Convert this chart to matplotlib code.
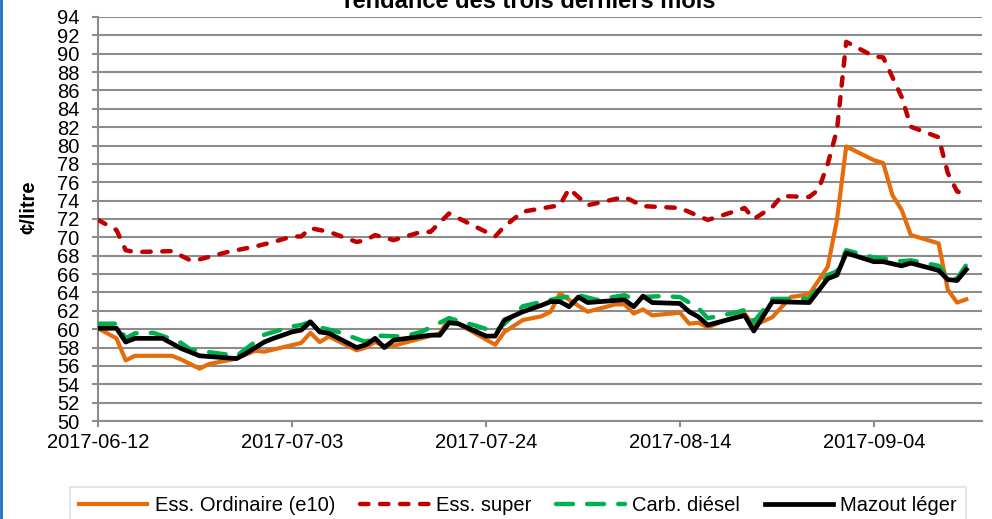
import pandas as pd
import matplotlib
matplotlib.use("Agg")
import matplotlib.pyplot as plt
import matplotlib.dates as mdates
from matplotlib.lines import Line2D

plt.rcParams['font.family'] = ['Liberation Sans', 'DejaVu Sans']

start = pd.Timestamp('2017-06-12')

# day offsets from 2017-06-12 and prices (cents / litre)
ordinaire_days = [0, 2, 3, 4, 8, 9, 11, 12, 15, 17, 18, 22, 23, 24, 25, 28, 29, 30, 31, 32, 35, 37, 38, 39,
                  43, 44, 46, 48, 49, 50, 51, 53, 56, 57, 58, 59, 60, 63, 64, 65, 66, 68, 70, 71, 73, 75,
                  77, 79, 80, 81, 84, 85, 86, 87, 88, 91, 92, 93, 94]
ordinaire = [60.1, 59.0, 56.6, 57.1, 57.1, 56.7, 55.7, 56.2, 56.8, 57.65, 57.55, 58.5, 59.6, 58.6, 59.2,
             57.7, 58.0, 58.6, 58.2, 58.2, 59.0, 59.55, 61.2, 60.6, 58.3, 59.7, 61.0, 61.4, 61.9, 63.9,
             63.2, 61.9, 62.7, 62.7, 61.7, 62.15, 61.5, 61.8, 60.6, 60.7, 60.2, 61.0, 61.7, 60.4, 61.3,
             63.5, 63.8, 66.8, 71.9, 79.9, 78.4, 78.1, 74.6, 73.0, 70.25, 69.35, 64.3, 62.9, 63.25]

super_days = [0, 2, 3, 4, 8, 9, 10, 11, 14, 17, 19, 21, 22, 23, 25, 28, 29, 30, 32, 35, 36, 38, 39, 43,
              44, 46, 50, 51, 52, 53, 57, 59, 63, 66, 67, 70, 71, 73, 74, 77, 78, 79, 80, 81, 84, 85,
              87, 88, 91, 92, 93, 94]
ess_super = [71.9, 70.8, 68.6, 68.4, 68.5, 68.0, 67.5, 67.6, 68.4, 69.0, 69.5, 70.1, 70.1, 71.0, 70.6,
             69.5, 69.7, 70.25, 69.7, 70.6, 70.6, 72.6, 72.1, 70.1, 71.2, 72.8, 73.5, 75.3, 74.4, 73.5,
             74.4, 73.4, 73.2, 71.9, 72.2, 73.2, 72.0, 73.3, 74.5, 74.4, 75.2, 78.0, 81.7, 91.3, 89.7,
             89.6, 85.3, 82.05, 80.9, 77.0, 75.0, 74.7]

diesel_days = [0, 2, 3, 4, 6, 8, 9, 10, 12, 15, 17, 18, 21, 22, 23, 24, 26, 29, 30, 33, 35, 38, 41, 43,
               45, 46, 49, 50, 52, 54, 57, 58, 59, 61, 63, 65, 66, 69, 70, 71, 73, 77, 79, 80, 81, 84,
               85, 87, 88, 91, 92, 93, 94]
diesel = [60.6, 60.6, 59.0, 59.55, 59.6, 58.9, 58.5, 57.8, 57.5, 57.1, 58.6, 59.4, 60.3, 60.45, 60.8,
          60.2, 59.7, 58.6, 59.3, 59.2, 59.7, 61.2, 60.35, 59.7, 61.5, 62.5, 63.2, 63.4, 63.7, 63.2,
          63.7, 63.3, 63.5, 63.6, 63.5, 62.3, 61.2, 61.8, 62.1, 60.8, 63.3, 63.3, 65.9, 66.3, 68.6,
          67.8, 67.7, 67.4, 67.5, 66.9, 65.6, 65.5, 67.0]

mazout_days = [0, 2, 3, 4, 7, 8, 9, 11, 15, 16, 18, 19, 21, 22, 23, 24, 25, 28, 29, 30, 31, 32, 36, 37,
               38, 39, 42, 43, 44, 46, 48, 49, 50, 51, 52, 53, 57, 58, 59, 60, 63, 64, 65, 66, 70, 71,
               73, 77, 79, 80, 81, 84, 85, 87, 88, 91, 92, 93, 94]
mazout = [60.1, 60.1, 58.6, 59.0, 59.0, 58.45, 57.9, 57.1, 56.8, 57.35, 58.6, 59.0, 59.7, 59.9, 60.8,
          59.7, 59.55, 58.0, 58.3, 59.0, 58.0, 58.8, 59.35, 59.35, 60.7, 60.6, 59.25, 59.25, 61.0,
          61.9, 62.6, 63.0, 63.0, 62.45, 63.5, 62.9, 63.2, 62.45, 63.6, 62.9, 62.8, 61.9, 61.35,
          60.45, 61.5, 59.8, 63.0, 62.9, 65.5, 65.9, 68.3, 67.35, 67.35, 66.9, 67.2, 66.4, 65.4,
          65.3, 66.5]

tick_dates = ['2017-06-12', '2017-07-03', '2017-07-24', '2017-08-14', '2017-09-04']


def to_dates(days):
    return start + pd.to_timedelta(days, unit='D')


fig = plt.figure(figsize=(9.92, 5.19), dpi=100)
ax = fig.add_axes([98 / 992, 1 - 421 / 519, 884 / 992, 404 / 519])

ax.plot(to_dates(ordinaire_days), ordinaire, color='#E46C0A', lw=3.0,
        label='Ess. Ordinaire (e10)', zorder=3)
ax.plot(to_dates(super_days), ess_super, color='#C00000', lw=3.2, ls=(0, (1.9, 2.6)),
        dash_capstyle='round', label='Ess. super', zorder=3)
ax.plot(to_dates(diesel_days), diesel, color='#00B050', lw=3.2, ls=(0, (3.8, 3.2)),
        dash_capstyle='round', label='Carb. diésel', zorder=4)
ax.plot(to_dates(mazout_days), mazout, color='black', lw=3.4, label='Mazout léger', zorder=5)

ax.set_xlim(start, start + pd.Timedelta(days=95.7))
ax.set_ylim(50, 94)
ax.set_yticks(range(50, 95, 2))
ax.set_xticks(pd.to_datetime(tick_dates))
ax.xaxis.set_major_formatter(mdates.DateFormatter('%Y-%m-%d'))

ax.grid(axis='y', color='#8C8C8C', lw=1.5, zorder=0)
ax.set_axisbelow(True)
for side in ['top', 'right']:
    ax.spines[side].set_visible(False)
for side in ['left', 'bottom']:
    ax.spines[side].set_color('#8C8C8C')
    ax.spines[side].set_linewidth(1.5)
ax.tick_params(axis='y', length=4.5, width=1.5, color='#8C8C8C', pad=9, labelsize=14.5)
ax.tick_params(axis='x', length=4.5, width=1.5, color='#8C8C8C', pad=4, labelsize=14.5)

ax.set_ylabel('¢/litre', fontsize=14.5, fontweight='bold')
ax.yaxis.set_label_coords(-0.067, 0.53)

fig.text(528 / 992, 1 - 8 / 519, 'Tendance des trois derniers mois', ha='center', va='baseline',
         fontsize=17, fontweight='bold')

leg = fig.legend(loc='upper center', bbox_to_anchor=(518 / 992, 1 - 487 / 519),
                 ncol=4, fontsize=14.5, frameon=True, fancybox=False,
                 handlelength=3.4, handletextpad=0.35, columnspacing=1.25, borderaxespad=0,
                 borderpad=0.45)
leg.get_frame().set_edgecolor('#D9E2EE')
leg.get_frame().set_linewidth(1.5)

# blue border on the left edge of the frame
fig.add_artist(Line2D([0.001, 0.001], [0, 1], transform=fig.transFigure, color='#1F6FC0', lw=2))

fig.savefig('out.png', dpi=100)
